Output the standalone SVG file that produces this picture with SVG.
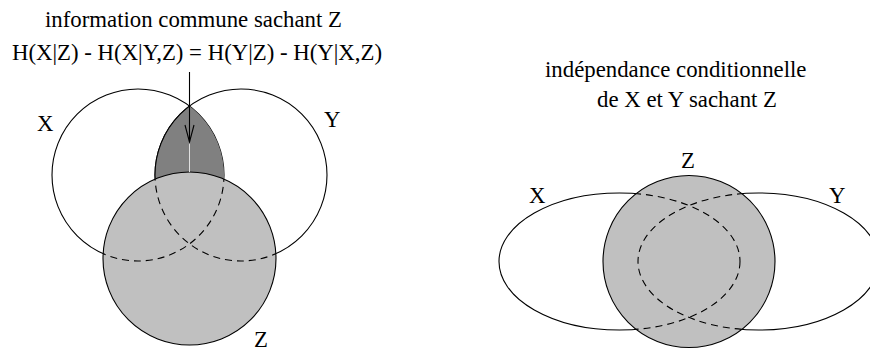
<svg xmlns="http://www.w3.org/2000/svg" width="870" height="352" viewBox="0 0 870 352">
<style>
.t{font-family:'Liberation Serif','Times New Roman',Times,'DejaVu Serif',serif;font-size:22.8px;fill:#000}
.o{fill:none;stroke:#000;stroke-width:1.1}
.d{fill:none;stroke:#000;stroke-width:1.1;stroke-dasharray:7 5}
.z{fill:#c0c0c0;stroke:#000;stroke-width:1.1}
</style>
<defs>
<clipPath id="clipZL"><circle cx="189.5" cy="258.5" r="86.5"/></clipPath>
<clipPath id="clipZR"><circle cx="689" cy="261.5" r="86"/></clipPath>
<clipPath id="clipX"><circle cx="138" cy="175" r="86"/></clipPath>
</defs>
<rect width="870" height="352" fill="#fff"/>

<g id="title-left">
<text class="t" x="45" y="27">information commune sachant Z</text>
<text class="t" x="12" y="60">H(X|Z) - H(X|Y,Z) = H(Y|Z) - H(Y|X,Z)</text>
</g>

<g id="left-X">
<circle class="o" cx="138" cy="175" r="86"/>
<text class="t" x="37" y="131">X</text>
</g>
<g id="left-Y">
<circle class="o" cx="241" cy="175" r="86"/>
<text class="t" x="324" y="127">Y</text>
</g>
<g id="left-XY">
<circle cx="241" cy="175" r="86" clip-path="url(#clipX)" fill="#808080" stroke="#000" stroke-width="1.1"/>
</g>
<g id="left-Z">
<circle class="z" cx="189.5" cy="258.5" r="86.5"/>
<g clip-path="url(#clipZL)">
<circle class="d" cx="138" cy="175" r="86"/>
<circle class="d" cx="241" cy="175" r="86"/>
</g>
<text class="t" x="254" y="347">Z</text>
</g>

<g id="connectors">
<line x1="189.5" y1="142" x2="189.5" y2="172" stroke="#e0e0e0" stroke-width="1"/>
<line x1="189.5" y1="72" x2="189.5" y2="142" stroke="#000" stroke-width="1.1"/>
<polyline points="185,125 189.5,142 194,125" fill="none" stroke="#000" stroke-width="1.1"/>
</g>

<g id="title-right">
<text class="t" x="545" y="77">indépendance conditionnelle</text>
<text class="t" x="597" y="107">de X et Y sachant Z</text>
</g>

<g id="right-X">
<ellipse class="o" cx="619.5" cy="261.5" rx="120.5" ry="68.5"/>
<text class="t" x="529" y="203">X</text>
</g>
<g id="right-Y">
<ellipse class="o" cx="758.5" cy="261.5" rx="120.5" ry="68.5"/>
<text class="t" x="829" y="203">Y</text>
</g>
<g id="right-Z">
<circle class="z" cx="689" cy="261.5" r="86"/>
<g clip-path="url(#clipZR)">
<ellipse class="d" cx="619.5" cy="261.5" rx="120.5" ry="68.5"/>
<ellipse class="d" cx="758.5" cy="261.5" rx="120.5" ry="68.5"/>
</g>
<text class="t" x="681" y="168">Z</text>
</g>
</svg>
